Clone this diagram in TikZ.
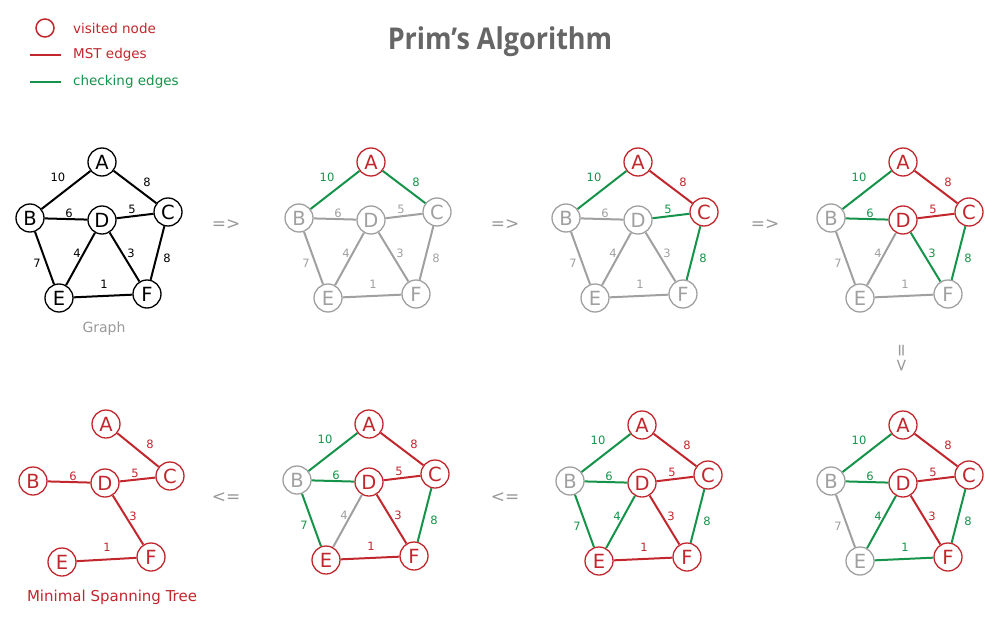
\documentclass[tikz,border=0pt]{standalone}
\usepackage{fontspec}
\setmainfont{DejaVu Sans}
\newfontfamily\titlefont[FakeStretch=0.9]{Open Sans}
\definecolor{rdc}{HTML}{C1272D}
\definecolor{grc}{HTML}{16934A}
\definecolor{gyc}{HTML}{A0A0A0}
\definecolor{ttc}{HTML}{666666}
\definecolor{arc}{HTML}{999999}
\tikzset{
  vtx/.style={circle,draw,line width=1.3pt,minimum size=28pt,inner sep=0pt,font=\fontsize{19.5}{19.5}\selectfont},
  edge/.style={line width=2pt},
  lbl/.style={font=\fontsize{11.5}{11.5}\selectfont,inner sep=0pt},
  bk/.style={color=black}, rd/.style={color=rdc}, gr/.style={color=grc}, gy/.style={color=gyc},
  arrowtxt/.style={text=arc,font=\fontsize{17}{17}\selectfont,inner sep=0pt},
  legtxt/.style={anchor=west,inner sep=0pt,font=\fontsize{13.5}{13.5}\selectfont},
  captxt/.style={inner sep=0pt,font=\fontsize{14}{14}\selectfont}
}
\newcommand\setn[6]{\tikzset{nA/.style={#1},nB/.style={#2},nC/.style={#3},nD/.style={#4},nE/.style={#5},nF/.style={#6}}}
\newcommand\sete[9]{\tikzset{eAB/.style={#1},eAC/.style={#2},eBD/.style={#3},eDC/.style={#4},eBE/.style={#5},eDE/.style={#6},eDF/.style={#7},eCF/.style={#8},eEF/.style={#9}}}
\newcommand\pgraph[3]{%
\begin{scope}[shift={(#2,#3)}]
  \node[vtx,nA,fill=white] (#1A) at (0,0) {A};
  \node[vtx,nB,fill=white] (#1B) at (-72,56) {B};
  \node[vtx,nC,fill=white] (#1C) at (66,50) {C};
  \node[vtx,nD,fill=white] (#1D) at (0,58) {D};
  \node[vtx,nE,fill=white] (#1E) at (-43,136) {E};
  \node[vtx,nF,fill=white] (#1F) at (45,132) {F};
  \draw[edge,eAB] (#1A) -- (#1B);
  \draw[edge,eAC] (#1A) -- (#1C);
  \draw[edge,eBD] (#1B) -- (#1D);
  \draw[edge,eDC] (#1D) -- (#1C);
  \draw[edge,eBE] (#1B) -- (#1E);
  \draw[edge,eDE] (#1D) -- (#1E);
  \draw[edge,eDF] (#1D) -- (#1F);
  \draw[edge,eCF] (#1C) -- (#1F);
  \draw[edge,eEF] (#1E) -- (#1F);
  \node[lbl,eAB] at (-44,15) {10};
  \node[lbl,eAC] at (45,20) {8};
  \node[lbl,eBD] at (-33,51) {6};
  \node[lbl,eDC] at (30,47.5) {5};
  \node[lbl,eBE] at (-65,101) {7};
  \node[lbl,eDE] at (-25,91) {4};
  \node[lbl,eDF] at (29,91) {3};
  \node[lbl,eCF] at (65,96) {8};
  \node[lbl,eEF] at (2,122) {1};
\end{scope}}
\begin{document}
\begin{tikzpicture}[x=1pt,y=-1pt]
\useasboundingbox (0,0) rectangle (1000,631);
% legend
\node[circle,draw=rdc,line width=1.5pt,minimum size=18pt,inner sep=0pt] (lgc) at (45,28) {};
\node[legtxt,text=rdc] (lg1) at (73,28) {visited node};
\coordinate (m1) at (30,55); \coordinate (m2) at (61,55);
\draw[rdc,line width=1.2pt] (m1) -- (m2);
\node[legtxt,text=rdc] (lg2) at (73,55) {MST edges};
\coordinate (c1) at (30,82); \coordinate (c2) at (61,82);
\draw[grc,line width=1.2pt] (c1) -- (c2);
\node[legtxt,text=grc] (lg3) at (73,82) {checking edges};
% title
\node[inner sep=0pt,text=ttc,font=\titlefont\bfseries\fontsize{30}{30}\selectfont] (title) at (500,42) {Prim’s Algorithm};
% graphs
\setn{bk}{bk}{bk}{bk}{bk}{bk}
\sete{bk}{bk}{bk}{bk}{bk}{bk}{bk}{bk}{bk}
\pgraph{g1}{102}{162}
\node[captxt,text=arc] (cap1) at (104,329) {Graph};
\setn{rd}{gy}{gy}{gy}{gy}{gy}
\sete{gr}{gr}{gy}{gy}{gy}{gy}{gy}{gy}{gy}
\pgraph{g2}{371}{162}
\setn{rd}{gy}{rd}{gy}{gy}{gy}
\sete{gr}{rd}{gy}{gr}{gy}{gy}{gy}{gr}{gy}
\pgraph{g3}{638}{162}
\setn{rd}{gy}{rd}{rd}{gy}{gy}
\sete{gr}{rd}{gr}{rd}{gy}{gy}{gr}{gr}{gy}
\pgraph{g4}{903}{162}
\setn{rd}{gy}{rd}{rd}{gy}{rd}
\sete{gr}{rd}{gr}{rd}{gy}{gr}{rd}{gr}{gr}
\pgraph{g5}{903}{425}
\setn{rd}{gy}{rd}{rd}{rd}{rd}
\sete{gr}{rd}{gr}{rd}{gr}{gr}{rd}{gr}{rd}
\pgraph{g6}{642}{425}
\setn{rd}{gy}{rd}{rd}{rd}{rd}
\sete{gr}{rd}{gr}{rd}{gr}{gy}{rd}{gr}{rd}
\pgraph{g7}{369}{424}
% MST
\begin{scope}[shift={(106,424)}]
  \node[vtx,rd,fill=white] (mA) at (0,0) {A};
  \node[vtx,rd,fill=white] (mB) at (-73,57) {B};
  \node[vtx,rd,fill=white] (mC) at (64,52) {C};
  \node[vtx,rd,fill=white] (mD) at (-1,59) {D};
  \node[vtx,rd,fill=white] (mE) at (-44,138) {E};
  \node[vtx,rd,fill=white] (mF) at (45,133) {F};
  \draw[edge,rd] (mA) -- (mC);
  \draw[edge,rd] (mB) -- (mD);
  \draw[edge,rd] (mD) -- (mC);
  \draw[edge,rd] (mD) -- (mF);
  \draw[edge,rd] (mE) -- (mF);
  \node[lbl,rd] at (44,20) {8};
  \node[lbl,rd] at (-33,52) {6};
  \node[lbl,rd] at (29,49) {5};
  \node[lbl,rd] at (27,92) {3};
  \node[lbl,rd] at (1,123) {1};
\end{scope}
\node[captxt,text=rdc,font=\fontsize{15}{15}\selectfont] (cap2) at (112,597) {Minimal Spanning Tree};
% arrows
\node[arrowtxt] (ar1) at (226,225) {=>};
\node[arrowtxt] (ar2) at (505,225) {=>};
\node[arrowtxt] (ar3) at (765,225) {=>};
\node[arrowtxt,rotate=-90] (ar4) at (901,358) {=>};
\node[arrowtxt] (ar5) at (505,498) {<=};
\node[arrowtxt] (ar6) at (226,498) {<=};
\end{tikzpicture}
\end{document}
